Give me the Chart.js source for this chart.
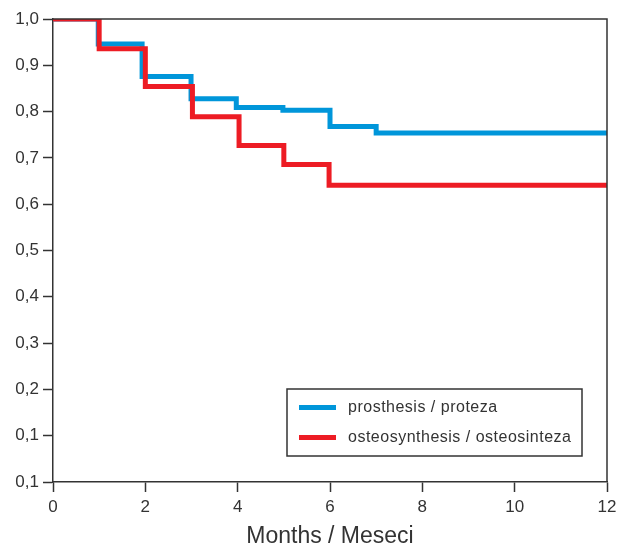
<!DOCTYPE html>
<html>
<head>
<meta charset="utf-8">
<script src="https://cdn.jsdelivr.net/npm/chart.js@4/dist/chart.umd.min.js"></script>
<style>
  html, body { margin: 0; padding: 0; background: #ffffff; }
  #wrap { width: 618px; height: 548px; }
</style>
</head>
<body>
<div id="wrap"><canvas id="c" width="618" height="548"></canvas></div>
<script>
// Data (Kaplan-Meier step curves)
const seriesNames = ['prosthesis / proteza', 'osteosynthesis / osteosinteza'];
const prosthesisMonths = [0, 0.98, 1.93, 2.99, 3.97, 4.98, 6.0, 7.0, 12];
const prosthesisSurvival = [1.0, 0.946, 0.876, 0.828, 0.809, 0.803, 0.768, 0.754, 0.754];
const osteoMonths = [0, 1.0, 2.0, 3.02, 4.03, 5.0, 5.98, 12];
const osteoSurvival = [1.0, 0.936, 0.854, 0.789, 0.727, 0.686, 0.641, 0.641];
const xTickValues = [0, 2, 4, 6, 8, 10, 12];
const yTickLabels = ['0,1', '0,1', '0,2', '0,3', '0,4', '0,5', '0,6', '0,7', '0,8', '0,9', '1,0'];
const xTitle = 'Months / Meseci';

const BLUE = '#0096da';
const RED = '#ed1c24';
const AXIS = '#333333';
const FONT = "'Liberation Sans', Arial, Helvetica, sans-serif";

const toPoints = (xs, ys) => xs.map((x, i) => ({ x: x, y: ys[i] }));

const frameAndLegend = {
  id: 'frameAndLegend',
  afterDraw(chart) {
    const ctx = chart.ctx;
    const a = chart.chartArea;
    ctx.save();
    // top and right frame lines
    ctx.strokeStyle = AXIS;
    ctx.lineWidth = 1.5;
    ctx.beginPath();
    ctx.moveTo(a.left, a.top);
    ctx.lineTo(a.right, a.top);
    ctx.lineTo(a.right, a.bottom);
    ctx.stroke();

    // legend box
    const bx = 287, by = 389, bw = 295, bh = 67;
    ctx.fillStyle = '#ffffff';
    ctx.fillRect(bx, by, bw, bh);
    ctx.lineWidth = 1.5;
    ctx.strokeStyle = AXIS;
    ctx.strokeRect(bx, by, bw, bh);
    const colors = [BLUE, RED];
    const rows = [407.5, 437.5];
    ctx.font = '16px ' + FONT;
    if ('letterSpacing' in ctx) ctx.letterSpacing = '0.5px';
    ctx.textBaseline = 'middle';
    ctx.textAlign = 'left';
    seriesNames.forEach((name, i) => {
      ctx.strokeStyle = colors[i];
      ctx.lineWidth = 5;
      ctx.beginPath();
      ctx.moveTo(299, rows[i]);
      ctx.lineTo(336, rows[i]);
      ctx.stroke();
      ctx.fillStyle = AXIS;
      ctx.fillText(name, 348, rows[i] + 0.5);
    });
    ctx.restore();
  }
};

new Chart(document.getElementById('c'), {
  type: 'line',
  data: {
    datasets: [
      {
        label: seriesNames[0],
        data: toPoints(prosthesisMonths, prosthesisSurvival),
        borderColor: BLUE,
        backgroundColor: BLUE,
        borderWidth: 5,
        stepped: true,
        pointRadius: 0,
        fill: false,
        order: 2
      },
      {
        label: seriesNames[1],
        data: toPoints(osteoMonths, osteoSurvival),
        borderColor: RED,
        backgroundColor: RED,
        borderWidth: 5,
        stepped: true,
        pointRadius: 0,
        fill: false,
        order: 1
      }
    ]
  },
  options: {
    responsive: false,
    animation: false,
    devicePixelRatio: 1,
    layout: { padding: { top: 19, right: 11, left: 0, bottom: 0 } },
    plugins: {
      legend: { display: false },
      tooltip: { enabled: false },
      title: { display: false }
    },
    scales: {
      x: {
        type: 'linear',
        min: 0,
        max: 12,
        afterBuildTicks(scale) {
          scale.ticks = xTickValues.map(v => ({ value: v }));
        },
        afterFit(scale) {
          scale.height = 66;
          scale.paddingLeft = 0;
          scale.paddingRight = 0;
        },
        grid: {
          display: true,
          drawOnChartArea: false,
          drawTicks: true,
          tickLength: 10,
          tickWidth: 1.5,
          tickColor: AXIS
        },
        border: { display: true, color: AXIS, width: 1.5 },
        ticks: {
          color: AXIS,
          padding: 5,
          maxRotation: 0,
          font: { family: FONT, size: 17 },
          callback: (v) => String(v)
        },
        title: {
          display: true,
          text: xTitle,
          color: AXIS,
          font: { family: FONT, size: 23, lineHeight: 1 },
          padding: { top: 0, bottom: 0 }
        }
      },
      y: {
        type: 'linear',
        min: 0,
        max: 1,
        afterBuildTicks(scale) {
          scale.ticks = yTickLabels.map((_, i) => ({ value: i / 10 }));
        },
        afterFit(scale) {
          scale.width = 53;
          scale.paddingTop = 0;
          scale.paddingBottom = 0;
        },
        grid: {
          display: true,
          drawOnChartArea: false,
          drawTicks: true,
          tickLength: 10,
          tickWidth: 1.5,
          tickColor: AXIS
        },
        border: { display: true, color: AXIS, width: 1.5 },
        ticks: {
          color: AXIS,
          padding: 4,
          font: { family: FONT, size: 17 },
          callback: (v) => yTickLabels[Math.round(v * 10)]
        }
      }
    }
  },
  plugins: [frameAndLegend]
});
</script>
</body>
</html>
